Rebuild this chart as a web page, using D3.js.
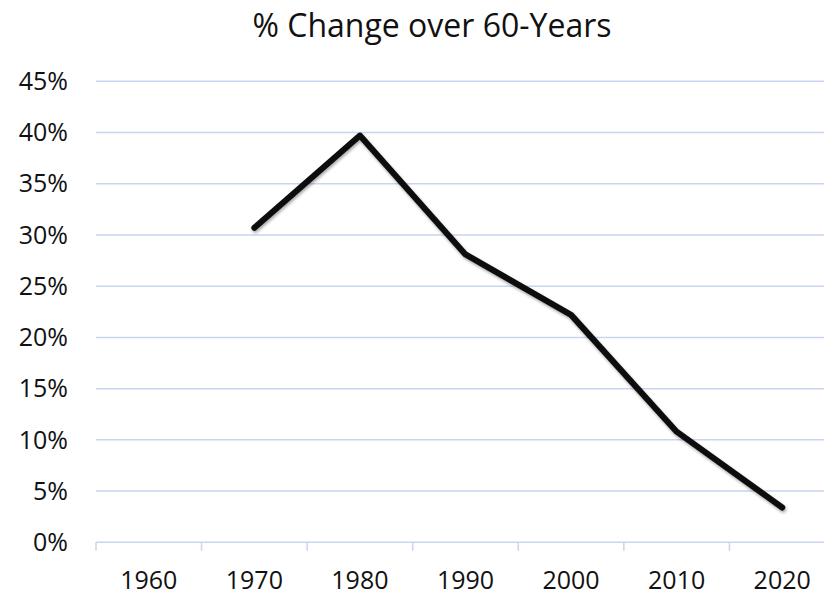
<!DOCTYPE html>
<html>
<head>
<meta charset="utf-8">
<script src="https://cdn.jsdelivr.net/npm/d3@7"></script>
<style>
  body { margin: 0; background: #fff; }
  text { font-family: "Open Sans", "Noto Sans", sans-serif; fill: #111; }
</style>
</head>
<body>
<svg id="chart"></svg>
<script>
// categories and values (percent)
var years = ['1960', '1970', '1980', '1990', '2000', '2010', '2020']
var pctChange = [null, 30.7, 39.7, 28.1, 22.2, 10.8, 3.4]
var yTicks = [0, 5, 10, 15, 20, 25, 30, 35, 40, 45]
var title = '% Change over 60-Years'

var W = 824, H = 596
var plot = { l: 96, r: 835, t: 81.3, b: 542.3 }
var gridColor = '#c9d5ee'

var svg = d3.select('#chart').attr('width', W).attr('height', H)

var x = d3.scaleBand().domain(years).range([plot.l, plot.r]).padding(0)
var y = d3.scaleLinear().domain([0, 45]).range([plot.b, plot.t])

// shadow under the line
var defs = svg.append('defs')
var f = defs.append('filter').attr('id', 'shadow')
  .attr('x', '-10%').attr('y', '-10%').attr('width', '120%').attr('height', '120%')
f.append('feDropShadow').attr('dx', 1).attr('dy', 2).attr('stdDeviation', 1.5)
  .attr('flood-color', '#000').attr('flood-opacity', 0.35)

// gridlines
svg.append('g')
  .selectAll('line')
  .data(yTicks)
  .join('line')
  .attr('x1', plot.l).attr('x2', plot.r)
  .attr('y1', d => y(d)).attr('y2', d => y(d))
  .attr('stroke', gridColor).attr('stroke-width', 1.5)

// y labels
svg.append('g')
  .selectAll('text')
  .data(yTicks)
  .join('text')
  .attr('x', 68)
  .attr('y', d => y(d))
  .attr('dy', '0.35em')
  .attr('text-anchor', 'end')
  .attr('font-size', 25)
  .text(d => d + '%')

// x axis ticks at band edges
var edges = years.map(d => x(d)).concat([plot.r])
svg.append('g')
  .selectAll('line')
  .data(edges)
  .join('line')
  .attr('x1', d => d).attr('x2', d => d)
  .attr('y1', plot.b).attr('y2', plot.b + 8.5)
  .attr('stroke', gridColor).attr('stroke-width', 1.5)

svg.append('g')
  .selectAll('text')
  .data(years)
  .join('text')
  .attr('x', d => x(d) + x.bandwidth() / 2)
  .attr('y', 589)
  .attr('text-anchor', 'middle')
  .attr('font-size', 25)
  .text(d => d)

// the line
var rows = years.map((d, i) => ({ year: d, value: pctChange[i] }))
var line = d3.line()
  .defined(d => d.value != null)
  .x(d => x(d.year) + x.bandwidth() / 2)
  .y(d => y(d.value))

svg.append('path')
  .datum(rows)
  .attr('d', line)
  .attr('fill', 'none')
  .attr('stroke', '#0a0a0a')
  .attr('stroke-width', 6)
  .attr('stroke-linecap', 'round')
  .attr('stroke-linejoin', 'round')
  .attr('filter', 'url(#shadow)')

svg.append('text')
  .attr('x', 432)
  .attr('y', 37)
  .attr('text-anchor', 'middle')
  .attr('font-size', 32)
  .text(title)
</script>
</body>
</html>
